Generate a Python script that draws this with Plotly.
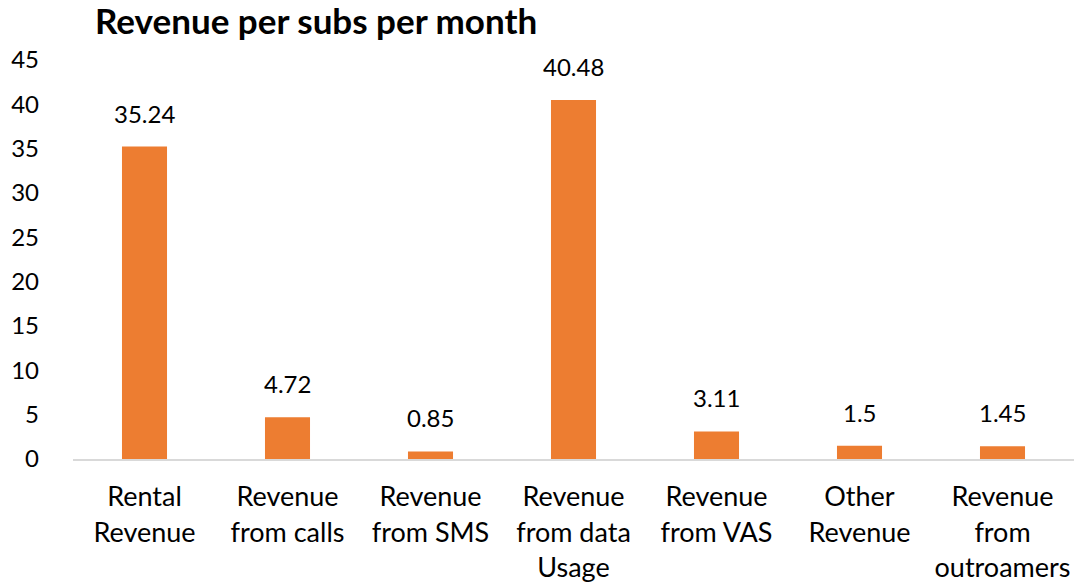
import plotly.graph_objects as go

categories = ["Rental<br>Revenue", "Revenue<br>from calls", "Revenue<br>from SMS",
              "Revenue<br>from data<br>Usage", "Revenue<br>from VAS", "Other<br>Revenue",
              "Revenue<br>from<br>outroamers"]
values = [35.24, 4.72, 0.85, 40.48, 3.11, 1.5, 1.45]
labels = ["35.24", "4.72", "0.85", "40.48", "3.11", "1.5", "1.45"]
y_ticks = [0, 5, 10, 15, 20, 25, 30, 35, 40, 45]

FONT = "Lato"

fig = go.Figure(go.Bar(x=categories, y=values, marker=dict(color="#ED7D31", line=dict(width=0))))

for c, v, t in zip(categories, values, labels):
    fig.add_annotation(x=c, y=v, text=t, showarrow=False, yanchor="bottom", yshift=17,
                       font=dict(family=FONT, size=24, color="#000000"))

fig.update_layout(
    width=1074, height=585,
    margin=dict(l=73, r=0, t=60, b=126),
    paper_bgcolor="white", plot_bgcolor="white",
    bargap=0.685,
    showlegend=False,
    title=dict(text="<b>Revenue per subs per month</b>", x=95/1074, xanchor="left",
               y=1 - 22/585, yanchor="middle",
               font=dict(family=FONT, size=35, color="#000000")),
    font=dict(family=FONT, size=24, color="#000000"),
)
fig.update_yaxes(range=[0, 45], tickvals=y_ticks, showgrid=False, zeroline=False,
                 showline=False, ticklabelstandoff=33, automargin=False,
                 tickfont=dict(family=FONT, size=24))
fig.update_xaxes(showline=True, linecolor="#d9d9d9", linewidth=2, ticks="",
                 ticklabelstandoff=13, automargin=False,
                 tickfont=dict(family=FONT, size=27))

fig.write_html("out.html", config={"displayModeBar": False},
               post_script="document.body.style.margin='0';document.body.style.overflow='hidden';")
